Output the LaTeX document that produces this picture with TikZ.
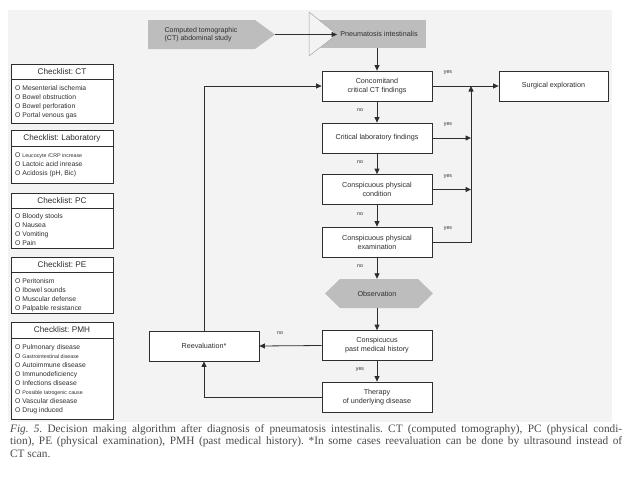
\documentclass[tikz,border=0pt]{standalone}
\usepackage{fontspec}
\setmainfont{Liberation Serif}
\setsansfont{Liberation Sans}
\usetikzlibrary{arrows.meta}
\definecolor{pagegray}{HTML}{F3F3F3}
\definecolor{fillgray}{HTML}{BDBDBD}
\definecolor{ink}{HTML}{2E2E2E}
\definecolor{captink}{HTML}{4A4A4A}
\frenchspacing
\begin{document}
\begin{tikzpicture}[x=1pt,y=-1pt,
 box/.style={draw=ink, line width=0.8pt, fill=white, minimum width=110pt, minimum height=30pt, inner sep=1pt, align=center, font=\sffamily\fontsize{7.2}{9}\selectfont, text=ink},
 arr/.style={draw=ink, line width=0.8pt, -{Triangle[length=5.5pt,width=5pt]}},
 ln/.style={draw=ink, line width=0.8pt},
 lab/.style={font=\sffamily\fontsize{5.3}{6}\selectfont, text=ink, inner sep=0pt},
 chk/.style={draw=ink, line width=0.8pt, fill=white, minimum width=102pt, inner sep=0pt},
 chkhead/.style={font=\sffamily\fontsize{8.2}{9}\selectfont, text=ink, inner sep=0pt},
 chkitems/.style={font=\sffamily\fontsize{6.8}{9}\selectfont, text=ink, inner sep=0pt, align=left, anchor=north west},
 captext/.style={font=\fontsize{11.3}{12.5}\selectfont, text=captink, inner sep=0pt, anchor=base west}
]
\useasboundingbox (0,0) rectangle (635,493);
\fill[white] (0,0) rectangle (635,493);
\fill[pagegray] (8,10) rectangle (612,422);

% ---------- checklists ----------
\node[chk, minimum height=59pt] (ctbox) at (62,93.5) {};
\node[chkhead] (cthead) at (62,71.5) {Checklist: CT};
\draw[ln] (11,79) -- (113,79);
\node[chkitems] (ctitems) at (15,85.5) {O Mesenterial ischemia\\O Bowel obstruction\\O Bowel perforation\\O Portal venous gas};

\node[chk, minimum height=53pt] (labbox) at (62,156.5) {};
\node[chkhead] (labhead) at (62,138) {Checklist: Laboratory};
\draw[ln] (11,146) -- (113,146);
\node[chkitems] (labitems) at (15,152.5) {O {\fontsize{5.3}{9}\selectfont Leucocyte /CRP increase}\\O Lactoic acid inrease\\O Acidosis (pH, Bic)};

\node[chk, minimum height=55pt] (pcbox) at (62,220.5) {};
\node[chkhead] (pchead) at (62,200.5) {Checklist: PC};
\draw[ln] (11,208) -- (113,208);
\node[chkitems] (pcitems) at (15,213.5) {O Bloody stools\\O Nausea\\O Vomiting\\O Pain};

\node[chk, minimum height=56pt] (pebox) at (62,285) {};
\node[chkhead] (pehead) at (62,264.5) {Checklist: PE};
\draw[ln] (11,272) -- (113,272);
\node[chkitems] (peitems) at (15,278.5) {O Peritonism\\O Ibowel sounds\\O Muscular defense\\O Palpable resistance};

\node[chk, minimum height=97pt] (pmhbox) at (62,370.5) {};
\node[chkhead] (pmhhead) at (62,330) {Checklist: PMH};
\draw[ln] (11,338) -- (113,338);
\node[chkitems] (pmhitems) at (15,344.5) {O Pulmonary disease\\O {\fontsize{5.3}{9}\selectfont Gastrointestinal disease}\\O Autoimmune disease\\O Immunodeficiency\\O Infections disease\\O {\fontsize{5.3}{9}\selectfont Possible Iatrogenic cause}\\O Vascular diesease\\O Drug induced};

% ---------- top ----------
\fill[fillgray] (148,20) -- (255,20) -- (275,34.5) -- (255,49) -- (148,49) -- cycle;
\node[font=\sffamily\fontsize{7}{8.5}\selectfont, text=ink, align=left, inner sep=0pt] (ct) at (201,34.5) {Computed tomographic\\(CT) abdominal study};
\coordinate (cttip) at (275,34.5);

\node[fill=fillgray, minimum width=106pt, minimum height=28pt, inner sep=0pt, font=\sffamily\fontsize{7.2}{9}\selectfont, text=ink] (pi) at (373,34) {\hspace*{12pt}Pneumatosis intestinalis};
\filldraw[fill=pagegray, draw=gray!70, line width=0.5pt] (309,12) -- (309,56) -- (337,34.5) -- cycle;
\coordinate (tip) at (337,34.5);
\draw[arr] (cttip) -- (tip);

% ---------- flow ----------
\node[box] (c1) at (377,86) {Concomitand\\critical CT findings};
\node[box] (c2) at (377,138) {Critical laboratory findings};
\node[box] (c3) at (377,189.5) {Conspicuous physical\\condition};
\node[box] (c4) at (377,242) {Conspicuous physical\\examination};
\fill[fillgray] (325,293.5) -- (340,279) -- (418,279) -- (433,293.5) -- (418,308) -- (340,308) -- cycle;
\node[minimum width=108pt, minimum height=29pt, inner sep=0pt, font=\sffamily\fontsize{7.2}{9}\selectfont, text=ink] (obs) at (377,293.5) {Observation};
\node[box] (pmh) at (377,345.5) {Conspicucus\\past medical history};
\node[box] (ther) at (377,397) {Therapy\\of underlying disease};
\node[box, minimum width=109pt] (surg) at (553.5,86) {Surgical exploration};
\node[box] (reev) at (204,346) {Reevaluation*};

\coordinate (col) at (471,86);
\draw[arr] (c1.north |- pi.south) -- (c1.north);
\draw[arr] (c1.east) -- (surg.west);
\draw[arr] (c2.east) -- (c2.east -| col);
\draw[arr] (c3.east) -- (c3.east -| col);
\draw[arr] (c4.east) -| (col);
\draw[arr] (c1.south) -- (c2.north);
\draw[arr] (c2.south) -- (c3.north);
\draw[arr] (c3.south) -- (c4.north);
\draw[arr] (c4.south) -- (obs.north);
\draw[arr] (obs.south) -- (pmh.north);
\draw[arr] (pmh.south) -- (ther.north);
\draw[arr] (pmh.west) -- (reev.east);
\draw[arr] (ther.west) -| (reev.south);
\draw[arr] (reev.north) |- (c1.west);

\node[lab] (n1) at (360,110) {no};
\node[lab] (n2) at (360,162) {no};
\node[lab] (n3) at (360,214) {no};
\node[lab] (n4) at (360,266) {no};
\node[lab] (n5) at (280,333) {no};
\node[lab] (y5) at (360,370) {yes};
\node[lab] (y1) at (448,73) {yes};
\node[lab] (y2) at (448,125) {yes};
\node[lab] (y3) at (448,177) {yes};
\node[lab] (y4) at (448,229) {yes};

% ---------- caption ----------
\node[captext] (cap1) at (10,432) {\makebox[612pt][s]{\textit{Fig. 5.} Decision making algorithm after diagnosis of pneumatosis intestinalis. CT (computed tomography), PC (physical condi-}};
\node[captext] (cap2) at (10,444.5) {\makebox[612pt][s]{tion), PE (physical examination), PMH (past medical history). *In some cases reevaluation can be done by ultrasound instead of}};
\node[captext] (cap3) at (10,457) {CT scan.};
\end{tikzpicture}
\end{document}
